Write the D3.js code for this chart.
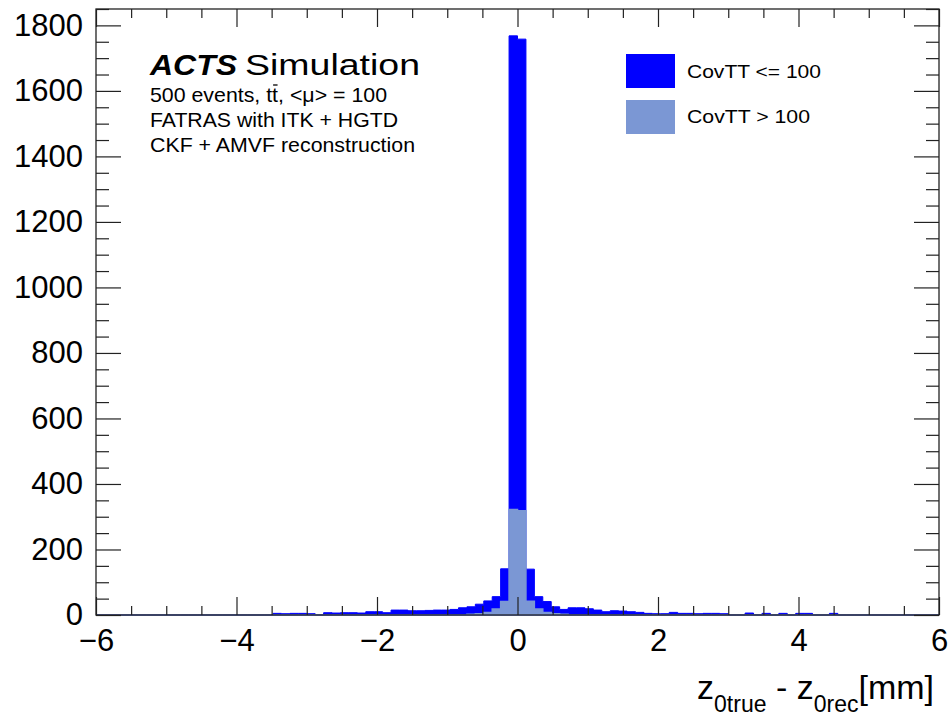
<!DOCTYPE html>
<html>
<head>
<meta charset="utf-8">
<script src="https://cdn.jsdelivr.net/npm/d3@7"></script>
<style>
  body { margin: 0; background: #fff; }
  text { font-family: "Liberation Sans", Arial, Helvetica, sans-serif; fill: #000; }
</style>
</head>
<body>
<div id="chart"></div>
<script>
// histogram: 100 bins of 0.12 mm between -6 and 6
var binLow = d3.range(100).map(i => -6 + i * 0.12);

// CovTT <= 100 (drawn on top of the stack)
var covLow = [
  0, 0, 0, 0, 0, 0, 0, 0, 0, 0,
  0, 0, 0, 0, 0, 0, 0, 0, 0, 0,
  0, 5, 4, 5, 5, 4, 0, 7, 6, 7,
  7, 6, 10, 10, 7, 15, 15, 13, 13, 14,
  15, 15, 17, 22, 23, 29, 35, 38, 100, 1446,
  1440, 98, 38, 33, 21, 15, 22, 22, 19, 15,
  10, 13, 12, 10, 8, 5, 4, 4, 8, 5,
  5, 4, 5, 5, 4, 0, 0, 6, 0, 5,
  0, 5, 0, 5, 5, 0, 0, 5, 0, 0,
  0, 0, 0, 0, 0, 0, 0, 0, 0, 0
];

// CovTT > 100 (bottom of the stack)
var covHigh = [
  0, 0, 0, 0, 0, 0, 0, 0, 0, 0,
  0, 0, 0, 0, 0, 0, 0, 0, 0, 0,
  0, 0, 0, 0, 0, 0, 0, 0, 0, 0,
  0, 0, 0, 0, 0, 0, 0, 0, 0, 0,
  0, 0, 0, 0, 2, 4, 8, 18, 41, 322,
  318, 42, 18, 8, 4, 2, 0, 0, 0, 0,
  0, 0, 0, 0, 0, 0, 0, 0, 0, 0,
  0, 0, 0, 0, 0, 0, 0, 0, 0, 0,
  0, 0, 0, 0, 0, 0, 0, 0, 0, 0,
  0, 0, 0, 0, 0, 0, 0, 0, 0, 0
];

var xMajor = [-6, -4, -2, 0, 2, 4, 6];
var yMajor = [0, 200, 400, 600, 800, 1000, 1200, 1400, 1600, 1800];
var legendLabels = ["CovTT <= 100", "CovTT > 100"];
var infoLines = ["500 events, tt, <\u03bc> = 100", "FATRAS with ITK + HGTD", "CKF + AMVF reconstruction"];

var colLow = "#0000ff", colHigh = "#7b97d4";

var W = 951, H = 721;
var frame = {left: 96, right: 939, top: 9, bottom: 615};

var svg = d3.select("#chart").append("svg")
    .attr("width", W).attr("height", H);

var x = d3.scaleLinear().domain([-6, 6]).range([frame.left, frame.right]);
var y = d3.scaleLinear().domain([0, 1850]).range([frame.bottom, frame.top]);

// stack the two histograms
var rows = binLow.map((e, i) => ({e: e, high: covHigh[i], low: covLow[i]}));
var series = d3.stack().keys(["high", "low"])(rows);

function withEnd(s) {
  var pts = s.map(d => ({e: d.data.e, y0: d[0], y1: d[1]}));
  var last = pts[pts.length - 1];
  pts.push({e: 6, y0: last.y0, y1: last.y1});
  return pts;
}

var step = d3.area()
    .curve(d3.curveStepAfter)
    .x(d => x(d.e))
    .y0(y(0))
    .y1(d => y(d.y1));

// total (CovTT <= 100 on top), then CovTT > 100 over it
svg.append("path")
    .datum(withEnd(series[1]))
    .attr("d", step)
    .attr("fill", colLow)
    .attr("stroke", colLow)
    .attr("stroke-width", 1);

svg.append("path")
    .datum(withEnd(series[0]))
    .attr("d", step)
    .attr("fill", colHigh)
    .attr("stroke", colHigh)
    .attr("stroke-width", 1.5);

// axes, ticks pointing inwards on all four sides
var xMinor = d3.range(-6, 6.01, 0.5).filter(v => xMajor.indexOf(v) < 0);
var yMinor = d3.range(0, 1851, 50).filter(v => yMajor.indexOf(v) < 0);

function drawAxis(axis, tx, ty, labels) {
  var g = svg.append("g")
      .attr("transform", "translate(" + tx + "," + ty + ")")
      .call(axis);
  g.select(".domain").remove();
  g.selectAll("line").attr("stroke", "#222").attr("stroke-width", 1.2);
  if (!labels) g.selectAll("text").remove();
  return g;
}

var gx = drawAxis(d3.axisBottom(x).tickValues(xMajor).tickSize(-18).tickPadding(14)
    .tickFormat(d3.format("d")), 0, frame.bottom, true);
gx.selectAll("text").attr("font-size", 31);
drawAxis(d3.axisBottom(x).tickValues(xMinor).tickSize(-9), 0, frame.bottom, false);
drawAxis(d3.axisTop(x).tickValues(xMajor).tickSize(-18), 0, frame.top, false);
drawAxis(d3.axisTop(x).tickValues(xMinor).tickSize(-9), 0, frame.top, false);

var gy = drawAxis(d3.axisLeft(y).tickValues(yMajor).tickSize(-25).tickPadding(13)
    .tickFormat(d3.format("d")), frame.left, 0, true);
gy.selectAll("text").attr("font-size", 31);
drawAxis(d3.axisLeft(y).tickValues(yMinor).tickSize(-13), frame.left, 0, false);
drawAxis(d3.axisRight(y).tickValues(yMajor).tickSize(-25), frame.right, 0, false);
drawAxis(d3.axisRight(y).tickValues(yMinor).tickSize(-13), frame.right, 0, false);

// frame
svg.append("rect")
    .attr("x", frame.left).attr("y", frame.top)
    .attr("width", frame.right - frame.left)
    .attr("height", frame.bottom - frame.top)
    .attr("fill", "none")
    .attr("stroke", "#222")
    .attr("stroke-width", 1.3);

// x axis title
var title = svg.append("text")
    .attr("x", 934).attr("y", 699)
    .attr("text-anchor", "end")
    .attr("font-size", 34);
title.append("tspan").text("z");
title.append("tspan").attr("font-size", 23).attr("dy", 13).text("0true");
title.append("tspan").attr("dy", -13).text(" - z");
title.append("tspan").attr("font-size", 23).attr("dy", 13).text("0rec");
title.append("tspan").attr("dy", -13).text("[mm]");

// ACTS label
svg.append("text")
    .attr("x", 150).attr("y", 75)
    .attr("font-size", 30)
    .attr("font-weight", "bold")
    .attr("font-style", "italic")
    .attr("textLength", 87)
    .attr("lengthAdjust", "spacingAndGlyphs")
    .text("ACTS");
svg.append("text")
    .attr("x", 245).attr("y", 75)
    .attr("font-size", 30)
    .attr("textLength", 175)
    .attr("lengthAdjust", "spacingAndGlyphs")
    .text("Simulation");

var infoWidths = [237, 248, 265];
infoLines.forEach(function(line, i) {
  var t = svg.append("text")
      .attr("x", 150).attr("y", 102 + i * 25)
      .attr("font-size", 21)
      .attr("textLength", infoWidths[i])
      .attr("lengthAdjust", "spacingAndGlyphs")
      .text(line);
  if (i === 0) {
    // bar over the second t of "tt"
    var k = line.indexOf("tt") + 1;
    var node = t.node();
    var a = node.getStartPositionOfChar(k).x, b = node.getEndPositionOfChar(k).x;
    svg.append("line")
        .attr("x1", a + 1).attr("x2", b - 0.5)
        .attr("y1", 102 - 17).attr("y2", 102 - 17)
        .attr("stroke", "#000").attr("stroke-width", 1.3);
  }
});

// legend
var legendWidths = [134, 123];
var legend = svg.append("g");
legendLabels.forEach(function(lab, i) {
  legend.append("rect")
      .attr("x", 626).attr("y", 54 + i * 46)
      .attr("width", 49).attr("height", 34)
      .attr("fill", i === 0 ? colLow : colHigh);
  legend.append("text")
      .attr("x", 687).attr("y", 78 + i * 45)
      .attr("font-size", 19)
      .attr("textLength", legendWidths[i])
      .attr("lengthAdjust", "spacingAndGlyphs")
      .text(lab);
});
</script>
</body>
</html>
